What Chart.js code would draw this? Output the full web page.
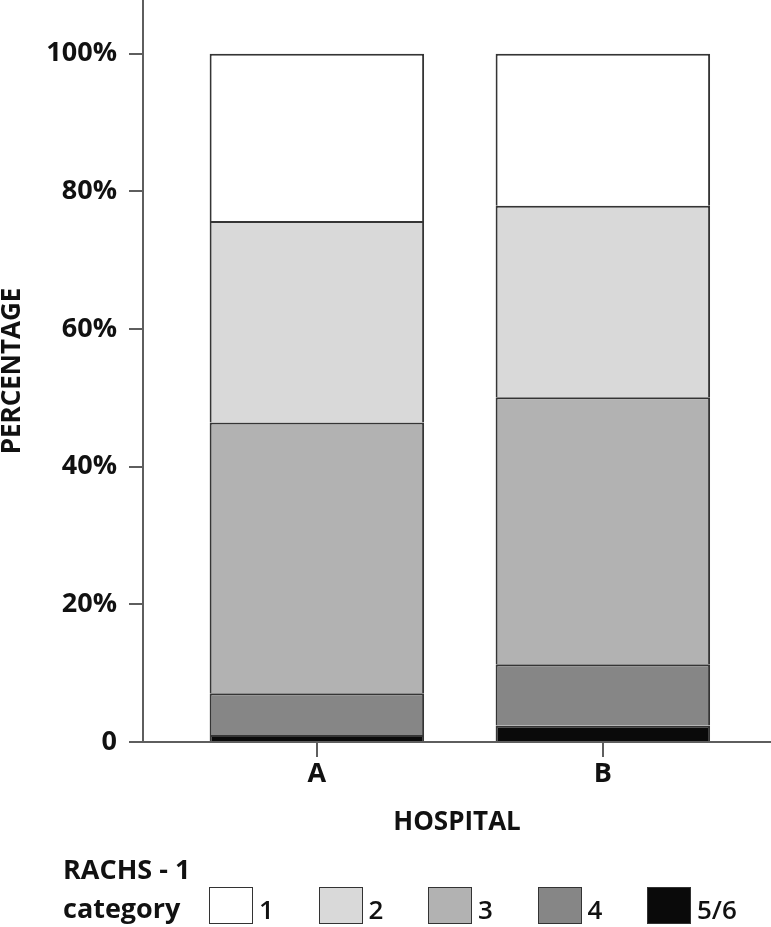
<!DOCTYPE html>
<html>
<head>
<meta charset="utf-8">
<script src="https://cdn.jsdelivr.net/npm/chart.js@4.4.1/dist/chart.umd.min.js"></script>
<style>
  html, body { margin: 0; padding: 0; background: #ffffff; }
  #wrap { position: relative; width: 771px; height: 927px; }
  #legend { position: absolute; left: 0; top: 0; width: 771px; height: 927px; pointer-events: none; font-family: 'Open Sans', sans-serif; color: #111; }
  #legend .t { position: absolute; font-weight: 700; font-size: 27px; line-height: 27px; white-space: nowrap; }
  #legend .box { position: absolute; box-sizing: border-box; width: 44px; height: 37px; border: 1.5px solid #333; }
  #legend .lab { position: absolute; font-weight: 600; font-size: 26px; line-height: 26px; white-space: nowrap; }
</style>
</head>
<body>
<div id="wrap">
  <canvas id="c"></canvas>
  <div id="legend"></div>
</div>
<script>
// ---- data ----
const hospitals = ['A', 'B'];
const racCategories = ['1', '2', '3', '4', '5/6'];
const cat1 = [24.3, 22.1];
const cat2 = [29.3, 27.8];
const cat3 = [39.3, 38.8];
const cat4 = [6.1, 8.9];
const cat56 = [1.0, 2.4];
const yTickValues = [0, 20, 40, 60, 80, 100];
const yTickLabels = ['0', '20%', '40%', '60%', '80%', '100%'];
const legendTitle = ['RACHS - 1', 'category'];
const xTitle = 'HOSPITAL';
const yTitle = 'PERCENTAGE';

// ---- styles ----
const fills = ['#ffffff', '#d9d9d9', '#b2b2b2', '#868686', '#0a0a0a'];
const seriesValues = [cat1, cat2, cat3, cat4, cat56];
const axisColor = '#5e5e5e';
const FONT = "'Open Sans', sans-serif";

// stack from bottom (5/6) to top (1)
const datasets = [];
for (let i = racCategories.length - 1; i >= 0; i--) {
  datasets.push({
    label: racCategories[i],
    data: seriesValues[i],
    backgroundColor: fills[i],
    borderColor: '#353535',
    borderWidth: 2,
    borderSkipped: 'start',
    categoryPercentage: 1.0,
    barPercentage: 0.75
  });
}

const tickLabelMap = {};
yTickValues.forEach((v, i) => { tickLabelMap[v] = yTickLabels[i]; });

const canvas = document.getElementById('c');

const chart = new Chart(canvas, {
  type: 'bar',
  data: { labels: hospitals, datasets: datasets },
  options: {
    responsive: true,
    maintainAspectRatio: false,
    animation: false,
    events: [],
    layout: { padding: { top: 0, left: 0, right: 0, bottom: 85 } },
    plugins: {
      legend: { display: false },
      tooltip: { enabled: false },
      title: { display: false }
    },
    scales: {
      x: {
        stacked: true,
        offset: true,
        grid: {
          display: true, drawOnChartArea: false, drawTicks: true,
          tickLength: 15, offset: false, color: axisColor, lineWidth: 2
        },
        border: { display: true, color: axisColor, width: 2 },
        ticks: {
          color: '#111', padding: 1,
          font: { family: FONT, size: 27, weight: '700' }
        },
        title: {
          display: true, text: xTitle, color: '#111',
          font: { family: FONT, size: 26, weight: '700', lineHeight: 1.2 },
          padding: { top: 0, bottom: 4 }
        },
        afterBuildTicks: (scale) => {
          // widen the category span so the axis runs past the bars on both sides
          scale._startValue = -0.608;
          scale._valueRange = 2.196;
        },
        afterFit: (scale) => {
          scale.height = 100;
          scale.paddingLeft = 0;
          scale.paddingRight = 0;
        }
      },
      y: {
        stacked: true,
        min: 0,
        max: 107.8,
        afterBuildTicks: (scale) => {
          scale.ticks = yTickValues.map(v => ({ value: v }));
        },
        grid: {
          display: true, drawOnChartArea: false, drawTicks: true,
          tickLength: 14, color: axisColor, lineWidth: 2
        },
        border: { display: true, color: axisColor, width: 2 },
        ticks: {
          color: '#111', padding: 12,
          font: { family: FONT, size: 27, weight: '700' },
          callback: (v) => tickLabelMap[v] !== undefined ? tickLabelMap[v] : ''
        },
        title: {
          display: true, text: yTitle, color: '#111',
          font: { family: FONT, size: 26, weight: '700', lineHeight: 1.0 },
          padding: { top: 0, bottom: 0 }
        },
        afterFit: (scale) => {
          scale.width = 143;
          scale.paddingTop = 0;
          scale.paddingBottom = 0;
        }
      }
    }
  }
});

// ---- legend (built from the chart's datasets) ----
const legend = document.getElementById('legend');
function addText(cls, text, left, top) {
  const d = document.createElement('div');
  d.className = cls;
  d.textContent = text;
  d.style.left = left + 'px';
  d.style.top = top + 'px';
  legend.appendChild(d);
  return d;
}
addText('t', legendTitle[0], 63, 855);
addText('t', legendTitle[1], 63, 894);
const items = chart.data.datasets.slice().reverse();
items.forEach((ds, i) => {
  const x = 209 + i * 109.5;
  const b = document.createElement('div');
  b.className = 'box';
  b.style.left = x + 'px';
  b.style.top = '887px';
  b.style.background = ds.backgroundColor;
  legend.appendChild(b);
  addText('lab', ds.label, x + 50, 896);
});
</script>
</body>
</html>
